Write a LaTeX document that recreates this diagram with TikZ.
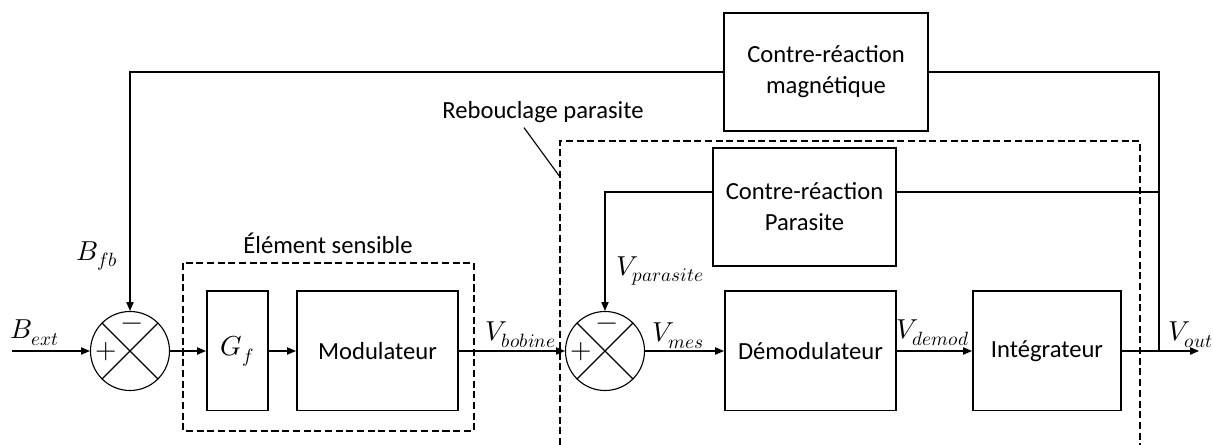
\documentclass[tikz,border=0pt]{standalone}
\usepackage{fontspec}
\usepackage{unicode-math}
\setmainfont{Carlito}
\setmathfont{Latin Modern Math}
\usetikzlibrary{arrows.meta}
\begin{document}
\begin{tikzpicture}[x=0.025cm,y=-0.025cm,
  font=\fontsize{17.5}{22}\selectfont,
  >={Triangle[length=2.2mm,width=1.8mm]},
  bloc/.style={draw,line width=1.4pt,minimum height=2.975cm,align=center,inner sep=0pt},
  somme/.style={draw,circle,line width=0.8pt,minimum size=1.975cm,inner sep=0pt},
  sig/.style={font=\fontsize{19.5}{23}\selectfont,inner sep=1pt},
  cadre/.style={line width=0.8pt,dash pattern=on 5pt off 2.6pt},
  fil/.style={line width=0.8pt}]
\useasboundingbox (0,0) rectangle (1213,445);

% blocs
\node[bloc,minimum width=1.525cm,sig] (gf) at (237.5,351) {$G_f$};
\node[bloc,minimum width=4.025cm] (mod) at (377.5,351) {Modulateur};
\node[bloc,minimum width=4.275cm] (demod) at (810.5,351) {Démodulateur};
\node[bloc,minimum width=3.7cm] (integ) at (1047,351) {Intégrateur};
\node[bloc,minimum width=4.575cm,minimum height=2.95cm] (par) at (804.5,207) {Contre-réaction\\Parasite};
\node[bloc,minimum width=5.1cm,minimum height=2.95cm] (mag) at (826,72) {Contre-réaction\\magnétique};

% comparateurs
\node[somme] (s1) at (130,351) {};
\node[somme] (s2) at (605,351) {};
\draw[fil] (s1.north west) -- (s1.south east) (s1.north east) -- (s1.south west);
\draw[fil] (s2.north west) -- (s2.south east) (s2.north east) -- (s2.south west);
\node[sig] (s1p) at (106,352) {$+$};
\node[sig] (s1m) at (132,327) {$-$};
\node[sig] (s2p) at (581,352) {$+$};
\node[sig] (s2m) at (607,327) {$-$};

% chaine directe
\coordinate (bext) at (12,351);
\coordinate (br) at (1159,351);
\coordinate (brp) at (1159,192);
\coordinate (vout) at (1199,351);
\draw[fil,->] (bext) -- (s1.west);
\draw[fil,->] (s1.east) -- (gf.west);
\draw[fil,->] (gf.east) -- (mod.west);
\draw[fil,->] (mod.east) -- (s2.west);
\draw[fil,->] (s2.east) -- (demod.west);
\draw[fil,->] (demod.east) -- (integ.west);
\draw[fil,->] (integ.east) -- (vout);

% retours
\draw[fil] (br) |- (mag.east);
\draw[fil,->] (mag.west) -| (s1.north);
\draw[fil] (brp) -- (brp -| par.east);
\draw[fil,->] (par.west |- brp) -| (s2.north);

% signaux
\node[sig] (lbext) at (35,333) {$B_{ext}$};
\node[sig] (lbfb) at (97,256) {$B_{fb}$};
\node[sig] (lvbob) at (521,335) {$V_{bobine}$};
\node[sig] (lvmes) at (678,336) {$V_{mes}$};
\node[sig] (lvpar) at (660,271) {$V_{parasite}$};
\node[sig] (lvdem) at (933,333) {$V_{demod}$};
\node[sig] (lvout) at (1191,335) {$V_{out}$};

% cadres
\draw[cadre] (183,263) rectangle (474,431);
\node (lelem) at (328,243) {Élément sensible};
\draw[cadre] (560,445) -- (560,141) -- (1140,141) -- (1140,445);
\node (lreb) at (543,112) {Rebouclage parasite};
\coordinate (reb1) at (560,177);
\draw[fil] ([xshift=-0.475cm]lreb.south) -- (reb1);
\end{tikzpicture}
\end{document}
